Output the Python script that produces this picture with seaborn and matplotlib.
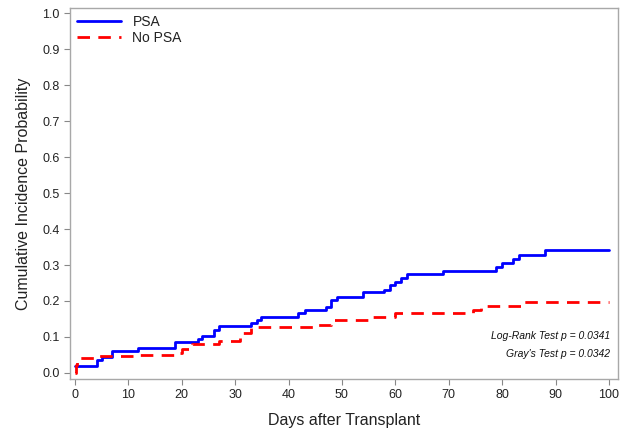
import pandas as pd
import seaborn as sns
import matplotlib.pyplot as plt

# step curves (day, cumulative incidence)
psa_days = [0, 4.1, 5.0, 7.0, 11.9, 18.8, 23.0, 23.8, 26.0, 26.9, 32.9, 34.0, 34.9,
            41.8, 43.0, 47.0, 48.0, 49.0, 54.0, 57.8, 59.0, 60.0, 61.0, 62.1, 68.9,
            78.9, 79.9, 82.0, 83.1, 88.0, 100]
psa_cif = [0.018, 0.035, 0.044, 0.060, 0.069, 0.086, 0.094, 0.102, 0.118, 0.130, 0.139,
           0.148, 0.156, 0.167, 0.176, 0.183, 0.204, 0.211, 0.224, 0.231, 0.244, 0.252,
           0.264, 0.275, 0.284, 0.294, 0.306, 0.317, 0.329, 0.341, 0.341]

nopsa_days = [0, 0.2, 0.4, 4.0, 12.0, 19.0, 20.0, 22.0, 27.0, 31.0, 33.0, 45.0, 48.0,
              55.0, 60.0, 74.5, 76.0, 84.0, 100]
nopsa_cif = [0.0, 0.022, 0.040, 0.046, 0.051, 0.056, 0.065, 0.080, 0.090, 0.110, 0.127,
             0.134, 0.146, 0.156, 0.166, 0.176, 0.186, 0.197, 0.197]

groups = ["PSA", "No PSA"]

df = pd.concat([
    pd.DataFrame({"Days": psa_days, "CIF": psa_cif, "Group": "PSA"}),
    pd.DataFrame({"Days": nopsa_days, "CIF": nopsa_cif, "Group": "No PSA"}),
], ignore_index=True)

sns.set_style("ticks")
plt.rcParams["font.family"] = ["Liberation Sans", "DejaVu Sans"]

fig = plt.figure(figsize=(6.3, 4.29), dpi=100)
ax = fig.add_axes([0.111, 0.1166, 0.870, 0.864])

sns.lineplot(data=df, x="Days", y="CIF", hue="Group", style="Group",
             hue_order=groups, style_order=groups,
             palette={"PSA": "#0000ff", "No PSA": "#ff0000"},
             dashes={"PSA": "", "No PSA": (4.5, 3)},
             estimator=None, sort=False, drawstyle="steps-post",
             linewidth=2, ax=ax)

ax.set_xlim(-0.94, 101.7)
ax.set_ylim(-0.017, 1.014)
ax.set_xticks(range(0, 101, 10))
ax.set_yticks([i / 10 for i in range(11)])
ax.set_yticklabels([f"{i / 10:.1f}" for i in range(11)])
ax.tick_params(labelsize=9, labelcolor="#222222", length=4, width=0.8, color="#888888")
for s in ax.spines.values():
    s.set_color("#a8a8a8")
    s.set_linewidth(1)
    s.set_visible(True)

ax.set_xlabel("Days after Transplant", fontsize=11.5, color="#222222", labelpad=8)
ax.set_ylabel("Cumulative Incidence Probability", fontsize=11.5, color="#222222", labelpad=8)

leg = ax.legend(loc="upper left", frameon=False, fontsize=10, handlelength=3.2,
                borderaxespad=0.1, labelspacing=0.1, handletextpad=0.8)
for t in leg.get_texts():
    t.set_color("#222222")

ax.text(0.985, 0.115, "Log-Rank Test p = 0.0341", transform=ax.transAxes,
        ha="right", va="center", fontsize=7.5, style="italic", color="#111111")
ax.text(0.985, 0.068, "Gray's Test p = 0.0342", transform=ax.transAxes,
        ha="right", va="center", fontsize=7.5, style="italic", color="#111111")

fig.savefig("out.png", dpi=100)
